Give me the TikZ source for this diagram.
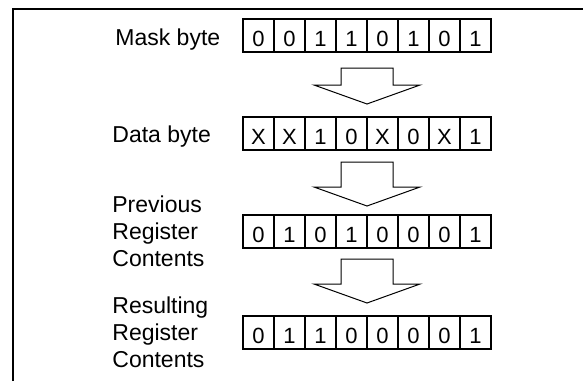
\documentclass[tikz,border=0pt]{standalone}
\usepackage{fontspec}
\setmainfont{Liberation Sans}
\usepackage{tikz}
\pgfdeclarelayer{edgelayer}
\pgfdeclarelayer{nodelayer}
\pgfsetlayers{edgelayer,nodelayer,main}
\tikzstyle{cell}=[rectangle,draw=black,line width=1pt,minimum width=15.5pt,minimum height=16.5pt,inner sep=0pt,text height=10.5pt,text depth=0pt,font=\fontsize{11}{13.5}\selectfont]
\tikzstyle{rowtext}=[anchor=west,align=left,inner sep=0pt,font=\fontsize{11.5}{13.5}\selectfont]
\tikzstyle{outline}=[draw=black,line width=1pt]
\tikzstyle{blockarrow}=[draw=black,line width=0.5pt,line join=miter]
\newcommand{\blockdown}[2]{\draw [style=blockarrow] (#1) ++(-26,0) -- ++(52,0) -- ++(0,#2) -- ++(27,0) -- ++(-53,19) -- ++(-53,-19) -- ++(27,0) -- cycle;}

\begin{document}
\begin{tikzpicture}[x=0.5pt,y=-0.5pt]
					\useasboundingbox (0,0) rectangle (583,381);
					\begin{pgfonlayer}{nodelayer}
						\node [style=rowtext] (0) at (115,39.5) {Mask byte};
						\node [style=cell] (1) at (258.5,35.5) {0};
						\node [style=cell] (2) at (289.5,35.5) {0};
						\node [style=cell] (3) at (320.5,35.5) {1};
						\node [style=cell] (4) at (351.5,35.5) {1};
						\node [style=cell] (5) at (382.5,35.5) {0};
						\node [style=cell] (6) at (413.5,35.5) {1};
						\node [style=cell] (7) at (444.5,35.5) {0};
						\node [style=cell] (8) at (475.5,35.5) {1};
						\node [style=rowtext] (9) at (112,136.5) {Data byte};
						\node [style=cell] (10) at (258.5,133.5) {X};
						\node [style=cell] (11) at (289.5,133.5) {X};
						\node [style=cell] (12) at (320.5,133.5) {1};
						\node [style=cell] (13) at (351.5,133.5) {0};
						\node [style=cell] (14) at (382.5,133.5) {X};
						\node [style=cell] (15) at (413.5,133.5) {0};
						\node [style=cell] (16) at (444.5,133.5) {X};
						\node [style=cell] (17) at (475.5,133.5) {1};
						\node [style=rowtext] (18) at (112,231.5) {Previous\\Register\\Contents};
						\node [style=cell] (19) at (258.5,231.5) {0};
						\node [style=cell] (20) at (289.5,231.5) {1};
						\node [style=cell] (21) at (320.5,231.5) {0};
						\node [style=cell] (22) at (351.5,231.5) {1};
						\node [style=cell] (23) at (382.5,231.5) {0};
						\node [style=cell] (24) at (413.5,231.5) {0};
						\node [style=cell] (25) at (444.5,231.5) {0};
						\node [style=cell] (26) at (475.5,231.5) {1};
						\node [style=rowtext] (27) at (112,332.5) {Resulting\\Register\\Contents};
						\node [style=cell] (28) at (258.5,332.5) {0};
						\node [style=cell] (29) at (289.5,332.5) {1};
						\node [style=cell] (30) at (320.5,332.5) {1};
						\node [style=cell] (31) at (351.5,332.5) {0};
						\node [style=cell] (32) at (382.5,332.5) {0};
						\node [style=cell] (33) at (413.5,332.5) {0};
						\node [style=cell] (34) at (444.5,332.5) {0};
						\node [style=cell] (35) at (475.5,332.5) {1};
					\end{pgfonlayer}
					\begin{pgfonlayer}{edgelayer}
						\draw [style=outline] (13,381) -- (13,9) -- (583,9);
						\coordinate (36) at (367,68);
						\coordinate (37) at (367,162);
						\coordinate (38) at (367,259);
						\blockdown{36}{17}
						\blockdown{37}{25}
						\blockdown{38}{25}
					\end{pgfonlayer}
				\end{tikzpicture}
\end{document}
